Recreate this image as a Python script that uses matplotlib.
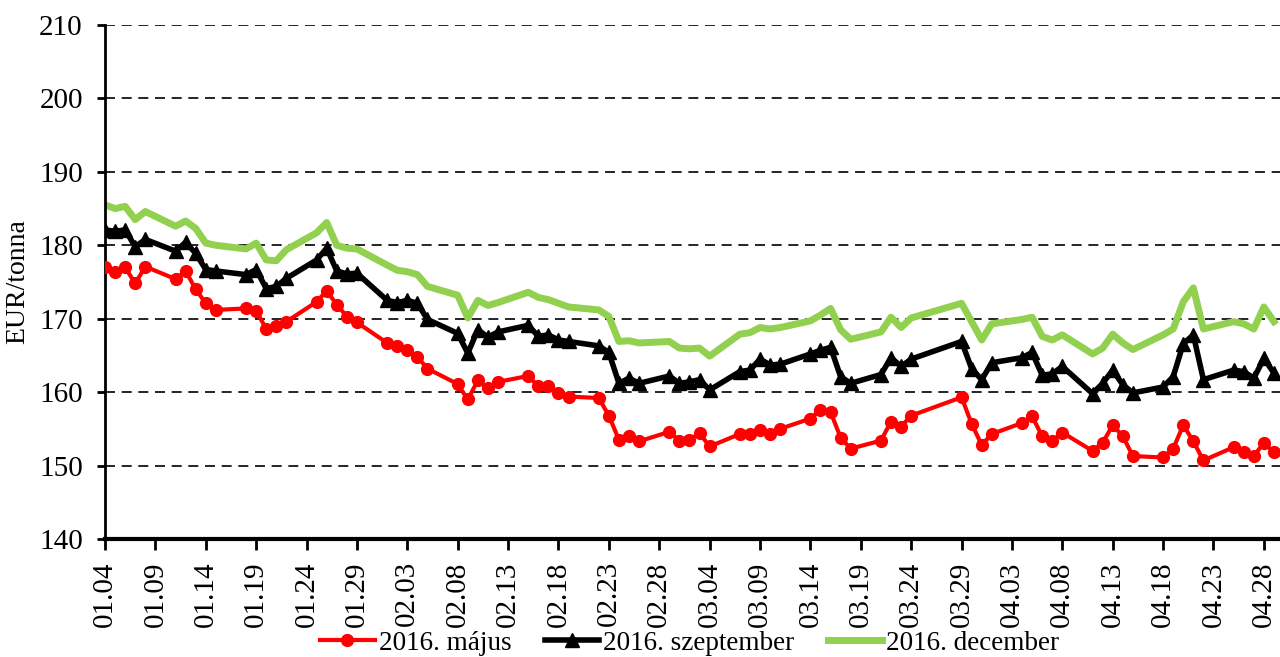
import matplotlib
matplotlib.use("Agg")
import matplotlib.pyplot as plt
import matplotlib.dates as mdates
import pandas as pd

plt.rcParams['font.family'] = ['Liberation Serif', 'DejaVu Serif']

# trading days, 2016.01.04 - 2016.04.29 (exchange closed 03.25 and 03.28)
holidays = ['2016-03-25', '2016-03-28']
dates = pd.bdate_range('2016-01-04', '2016-04-29').drop(pd.to_datetime(holidays))

may = [177.0, 176.4, 177.0, 174.8, 177.1,
       175.4, 176.5, 174.0, 172.1, 171.2,
       171.4, 171.1, 168.6, 169.0, 169.6,
       172.3, 173.8, 171.9, 170.3, 169.5,
       166.7, 166.3, 165.7, 164.8, 163.2,
       161.1, 159.0, 161.6, 160.5, 161.4,
       162.2, 160.8, 160.9, 159.9, 159.4,
       159.2, 156.8, 153.5, 154.0, 153.3,
       154.6, 153.4, 153.5, 154.4, 152.6,
       154.3, 154.3, 154.9, 154.3, 155.0,
       156.4, 157.6, 157.3, 153.8, 152.3,
       153.4, 156.0, 155.3, 156.8,
       159.3, 155.7, 152.8, 154.3,
       155.8, 156.7, 154.0, 153.4, 154.5,
       152.0, 153.1, 155.5, 154.0, 151.3,
       151.1, 152.3, 155.5, 153.3, 150.7,
       152.5, 151.8, 151.3, 153.1, 151.8]

september = [182.1, 181.9, 182.1, 179.8, 180.8,
             179.2, 180.4, 178.9, 176.7, 176.5,
             176.0, 176.7, 174.1, 174.4, 175.5,
             178.0, 179.6, 176.5, 176.1, 176.2,
             172.5, 172.2, 172.5, 172.1, 169.9,
             168.0, 165.3, 168.5, 167.5, 168.2,
             169.1, 167.6, 167.8, 167.1, 166.9,
             166.3, 165.4, 161.2, 161.9, 161.2,
             162.2, 161.2, 161.4, 161.7, 160.3,
             162.8, 163.0, 164.5, 163.7, 163.8,
             165.2, 165.7, 166.1, 162.1, 161.2,
             162.4, 164.7, 163.5, 164.5,
             166.9, 163.2, 161.7, 164.0,
             164.7, 165.4, 162.3, 162.5, 163.5,
             159.8, 161.2, 163.0, 161.0, 159.9,
             160.7, 162.1, 166.6, 167.8, 161.7,
             163.0, 162.8, 161.9, 164.6, 162.6]

december = [185.5, 185.0, 185.3, 183.5, 184.6,
            182.6, 183.3, 182.3, 180.3, 180.0,
            179.5, 180.3, 178.0, 177.9, 179.4,
            181.7, 183.1, 180.0, 179.6, 179.5,
            177.3, 176.6, 176.4, 176.0, 174.4,
            173.2, 170.1, 172.5, 171.8, 172.2,
            173.6, 172.9, 172.6, 172.1, 171.6,
            171.2, 170.3, 166.9, 167.0, 166.7,
            166.9, 166.0, 165.9, 166.0, 164.9,
            167.9, 168.1, 168.8, 168.6, 168.8,
            169.7, 170.5, 171.4, 168.5, 167.2,
            168.2, 170.2, 168.8, 170.1,
            172.1, 169.6, 167.1, 169.3,
            169.9, 170.2, 167.6, 167.1, 167.8,
            165.2, 166.0, 167.9, 166.7, 165.8,
            167.8, 168.6, 172.3, 174.2, 168.6,
            169.6, 169.3, 168.6, 171.6, 169.6]

series_labels = ['2016. május', '2016. szeptember', '2016. december']
y_label = 'EUR/tonna'
tick_dates = pd.date_range('2016-01-04', '2016-04-28', freq='5D')

fig = plt.figure(figsize=(12.8, 6.57), dpi=100)
ax = fig.add_axes([105/1280, 1 - 539/657, 1 - 105/1280, (539 - 25)/657])

ax.plot(dates, may, color='#FF0000', lw=3, marker='o', ms=8.5, label=series_labels[0], zorder=3)
ax.plot(dates, september, color='#000000', lw=4, marker='^', ms=10, label=series_labels[1], zorder=4)
ax.plot(dates, december, color='#92D050', lw=5, label=series_labels[2], zorder=2)

ax.set_ylim(140, 210)
ax.set_yticks(range(140, 211, 10))
x0 = pd.Timestamp('2016-01-04')
ax.set_xlim(x0, x0 + pd.Timedelta(days=116.6))
ax.set_xticks(tick_dates)
ax.xaxis.set_major_formatter(mdates.DateFormatter('%m.%d'))
ax.tick_params(axis='x', labelrotation=90, labelsize=21, direction='out', length=8, width=2, pad=8)
ax.tick_params(axis='y', labelsize=21, direction='out', length=6, width=2, pad=10)

for v in range(150, 211, 10):
    ax.axhline(v, color='black', lw=1.2, ls=(0, (6, 4)), zorder=1)

ax.spines['top'].set_visible(False)
ax.spines['right'].set_visible(False)
ax.spines['left'].set_linewidth(2)
ax.spines['bottom'].set_linewidth(3)

ax.set_ylabel(y_label, fontsize=20, labelpad=6)

fig.legend(loc='center', bbox_to_anchor=(0.539, 0.021), ncol=3, frameon=False,
           fontsize=19.5, handlelength=2.0, handletextpad=0.15, columnspacing=1.25)

fig.savefig('out.png', dpi=100)
